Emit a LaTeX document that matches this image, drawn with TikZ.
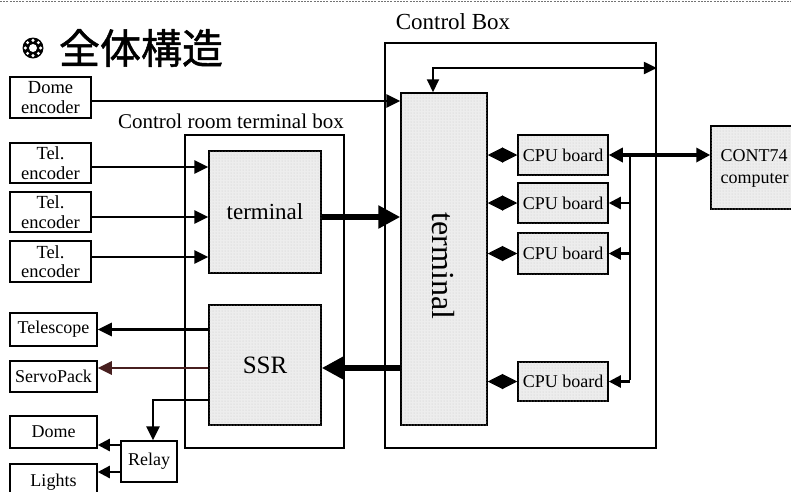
\documentclass[tikz,border=0pt]{standalone}
\usepackage{fontspec}
\setmainfont{Liberation Serif}
\newfontfamily\cjk[FakeBold=1.2]{Noto Sans CJK JP}
\usetikzlibrary{arrows.meta,patterns}
\begin{document}
\begin{tikzpicture}[x=1pt,y=-1pt,
  box/.style={draw, line width=1.5pt, inner sep=0pt, align=center, font=\fontsize{18}{19}\selectfont},
  twoline/.style={box, font=\fontsize{18.5}{19.5}\selectfont},
  shadedbox/.style={box, fill=black!7, postaction={pattern=dots, pattern color=black!22}},
  frame/.style={draw, line width=1.8pt},
  arr/.style={line width=2.7pt, -{Triangle[length=14pt,width=13pt]}},
  sarr/.style={line width=2.3pt, -{Triangle[length=12pt,width=12pt]}},
  thickarr/.style={line width=5.5pt, -{Triangle[length=22pt,width=22pt]}},
  dia/.style={line width=1pt, {Triangle[length=15pt,width=15pt]}-{Triangle[length=15pt,width=15pt]}},
  lbl/.style={inner sep=0pt, font=\fontsize{21}{22}\selectfont}
]
\useasboundingbox (0,0) rectangle (791,491);
\begin{scope}
\clip (0,0) rectangle (791,491);
% scan edge
\draw[black!55, line width=1.5pt, dash pattern=on 2pt off 1.2pt] (0,1.5) -- (791,1.5);

% title
\fill[black] (33,48) circle (10.5);
\fill[white] (33,48) circle (4);
\foreach \a in {0,45,...,315} \fill[white] (33,48) ++(\a:7.6) circle (1.7);
\node[inner sep=0pt, font=\cjk\fontsize{41}{41}\selectfont] (title) at (141,48) {全体構造};

% outer frames
\node[frame, minimum width=271, minimum height=405, inner sep=0pt] (cbox) at (520.5,245.5) {};
\node[lbl, font=\fontsize{23}{24}\selectfont] (cboxlbl) at (453,22) {Control Box};
\node[frame, minimum width=159, minimum height=313, inner sep=0pt] (crtb) at (264.5,291.5) {};
\node[lbl] (crtblbl) at (231,121) {Control room terminal box};

% left boxes
\node[twoline, minimum width=81, minimum height=41] (dome) at (50.5,97.5) {Dome\\encoder};
\node[twoline, minimum width=81, minimum height=40] (tel1) at (50.5,163) {Tel.\\encoder};
\node[twoline, minimum width=81, minimum height=40] (tel2) at (50.5,212) {Tel.\\encoder};
\node[twoline, minimum width=81, minimum height=41] (tel3) at (50.5,261.5) {Tel.\\encoder};
\node[box, minimum width=87, minimum height=33] (tele) at (53.5,329.5) {Telescope};
\node[box, minimum width=87, minimum height=31] (servo) at (53.5,376.5) {ServoPack};
\node[box, minimum width=87, minimum height=32] (domeb) at (53.5,432) {Dome};
\node[box, minimum width=87, minimum height=41, text depth=0pt] (lights) at (53.5,484.5) {\raisebox{8pt}{Lights}};
\node[box, minimum width=56, minimum height=41] (relay) at (149,461.5) {Relay};

% terminal box inner
\node[shadedbox, minimum width=112, minimum height=122, font=\fontsize{23}{24}\selectfont] (term) at (265,212) {terminal};
\node[shadedbox, minimum width=112, minimum height=120, font=\fontsize{25}{26}\selectfont] (ssr) at (265,365) {SSR};

% control box inner
\node[shadedbox, minimum width=86, minimum height=332] (bigterm) at (444,259) {};
\node[inner sep=0pt, rotate=-90, font=\fontsize{32}{32}\selectfont] (bigtermlbl) at (443,266) {terminal};
\node[shadedbox, minimum width=90, minimum height=40] (cpu1) at (563,155) {CPU board};
\node[shadedbox, minimum width=90, minimum height=40] (cpu2) at (563,203) {CPU board};
\node[shadedbox, minimum width=90, minimum height=41] (cpu3) at (563,253.5) {CPU board};
\node[shadedbox, minimum width=90, minimum height=39] (cpu4) at (563,381.5) {CPU board};
\node[shadedbox, minimum width=100, minimum height=83, align=left] (cont) at (761,167.5) {};
\node[inner sep=0pt, align=left, font=\fontsize{18}{22}\selectfont] (contlbl) at (754.5,168) {CONT74\\computer};

% encoder connectors
\draw[arr] ([yshift=-3.5pt]dome.east) -- ([yshift=-3.5pt]dome.east -| bigterm.west);
\draw[arr] ([yshift=-4pt]tel1.east) -- ([yshift=-4pt]tel1.east -| term.west);
\draw[arr] ([yshift=-5pt]tel2.east) -- ([yshift=-5pt]tel2.east -| term.west);
\draw[arr] ([yshift=4.5pt]tel3.east) -- ([yshift=4.5pt]tel3.east -| term.west);

% terminal <-> terminal
\draw[thickarr] ([yshift=-5pt]term.east) -- ([yshift=-5pt]term.east -| bigterm.west);
\draw[thickarr] ([yshift=-3pt]ssr.east -| bigterm.west) -- ([yshift=-3pt]ssr.east);

% SSR outputs
\draw[arr] (tele.east -| ssr.west) -- (tele.east);
\coordinate (sv) at ([yshift=8.5pt]servo.east);
\draw[arr, draw={rgb,1:red,0.28;green,0.12;blue,0.12}] (sv -| ssr.west) -- (sv);
\coordinate (rl) at ([xshift=4pt]relay.north);
\draw[arr] (ssr.west |- 0,400) -| (rl);
\coordinate (rd) at ([yshift=16.5pt]relay.west);
\coordinate (rli) at ([yshift=-10.5pt]relay.west);
\draw[sarr] (rd) -- (rd -| domeb.east);
\draw[sarr] (rli) -- (rli -| lights.east);

% loop at top of control box
\draw[line width=2pt, {Triangle[length=13pt,width=12pt]}-{Triangle[length=13pt,width=12pt]}]
  ([xshift=-11pt]bigterm.north) |- (cbox.east |- 0,68);

% diamonds
\foreach \c in {cpu1,cpu2,cpu3,cpu4}
  \draw[dia] (bigterm.east |- \c.west) -- (\c.west);

% CPU bus
\coordinate (bus) at ([xshift=21pt]cpu1.east);
\draw[line width=2.3pt] (bus) -- ([yshift=1.1pt]bus |- cpu4.east);
\draw[sarr] (bus |- cpu2.east) -- (cpu2.east);
\draw[sarr] (bus |- cpu3.east) -- (cpu3.east);
\draw[sarr] (bus |- cpu4.east) -- (cpu4.east);
\draw[line width=3.3pt, {Triangle[length=14pt,width=14pt]}-{Triangle[length=14pt,width=14pt]}]
  (cpu1.east) -- (cpu1.east -| cont.west);
\end{scope}
\end{tikzpicture}
\end{document}
